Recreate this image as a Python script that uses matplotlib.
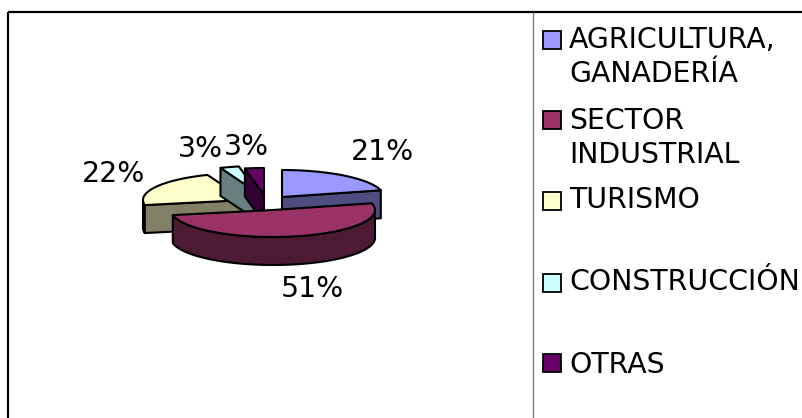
import numpy as np
import matplotlib
matplotlib.use("Agg")
import matplotlib.pyplot as plt
from matplotlib.patches import Polygon, Rectangle

categories = ["AGRICULTURA,\nGANADERÍA", "SECTOR\nINDUSTRIAL", "TURISMO", "CONSTRUCCIÓN", "OTRAS"]
values = [21, 51, 22, 3, 3]
pct_labels = ["21%", "51%", "22%", "3%", "3%"]
top_colors = ["#9999FF", "#993366", "#FFFFCC", "#CCFFFF", "#660066"]
side_colors = ["#4D4D80", "#4D1A33", "#808066", "#668080", "#330033"]

# layout, everything in pixels of the 803x418 picture
W, H = 803, 418
RX, RY, DEPTH = 102, 27, 28
apex = [(282, 197), (273, 210), (245, 200), (258, 193), (264, 195)]
label_pos = [(383, 152), (312, 289), (114, 174), (200, 149), (246, 147)]
legend_y = [57, 138, 200, 282, 365]
swatch_y = [40, 120, 201, 283, 363]
FS = 20.4
LW = 1.5

def rim(cx, cy, a0, a1):
    # angles clockwise from 12 o'clock, degrees
    t = np.radians(np.linspace(a0, a1, max(int(abs(a1 - a0)) + 2, 2)))
    return np.column_stack([cx + RX * np.sin(t), cy - RY * np.cos(t)])

def extrude(pts):
    low = pts[::-1] + [0, DEPTH]
    return np.vstack([pts, low])

fig = plt.figure(figsize=(W / 100, H / 100), dpi=100)
ax = fig.add_axes([0, 0, 1, 1])
ax.set_xlim(0, W)
ax.set_ylim(H, 0)
ax.axis("off")

# frame
ax.plot([8, 8], [H, 11.5], color="black", lw=1.6, solid_capstyle="butt")
ax.plot([8, W], [11.5, 11.5], color="black", lw=1.6, solid_capstyle="butt")
ax.plot([533, 533], [12, H], color="#808080", lw=1.0, solid_capstyle="butt")

# pie slices, the big front one goes last
angles = np.cumsum([0] + values) * 3.6
for i in [0, 2, 3, 4, 1]:
    a0, a1 = angles[i], angles[i + 1]
    cx, cy = apex[i]
    zo = 3 if i != 1 else 5
    faces = []
    lo, hi = max(a0, 90), min(a1, 270)
    if lo < hi:
        faces.append(extrude(rim(cx, cy, lo, hi)))
    if 180 < a0 < 360:
        faces.append(extrude(np.array([[cx, cy], rim(cx, cy, a0, a0)[0]])))
    if 0 < a1 < 180:
        faces.append(extrude(np.array([[cx, cy], rim(cx, cy, a1, a1)[0]])))
    for f in faces:
        ax.add_patch(Polygon(f, closed=True, fc=side_colors[i], ec="black", lw=LW, joinstyle="round", zorder=zo))
    top = np.vstack([[cx, cy], rim(cx, cy, a0, a1)])
    ax.add_patch(Polygon(top, closed=True, fc=top_colors[i], ec="black", lw=LW, joinstyle="round", zorder=zo))

for lab, (x, y) in zip(pct_labels, label_pos):
    ax.text(x, y, lab, fontsize=FS, color="black", ha="center", va="center", zorder=6)

# legend
for cat, col, ty, sy in zip(categories, top_colors, legend_y, swatch_y):
    ax.add_patch(Rectangle((543, sy - 9), 18, 18, fc=col, ec="black", lw=1.3))
    ax.text(569, ty, cat, fontsize=FS, color="black", ha="left", va="center", linespacing=1.3)

fig.savefig("out.png", dpi=100)
